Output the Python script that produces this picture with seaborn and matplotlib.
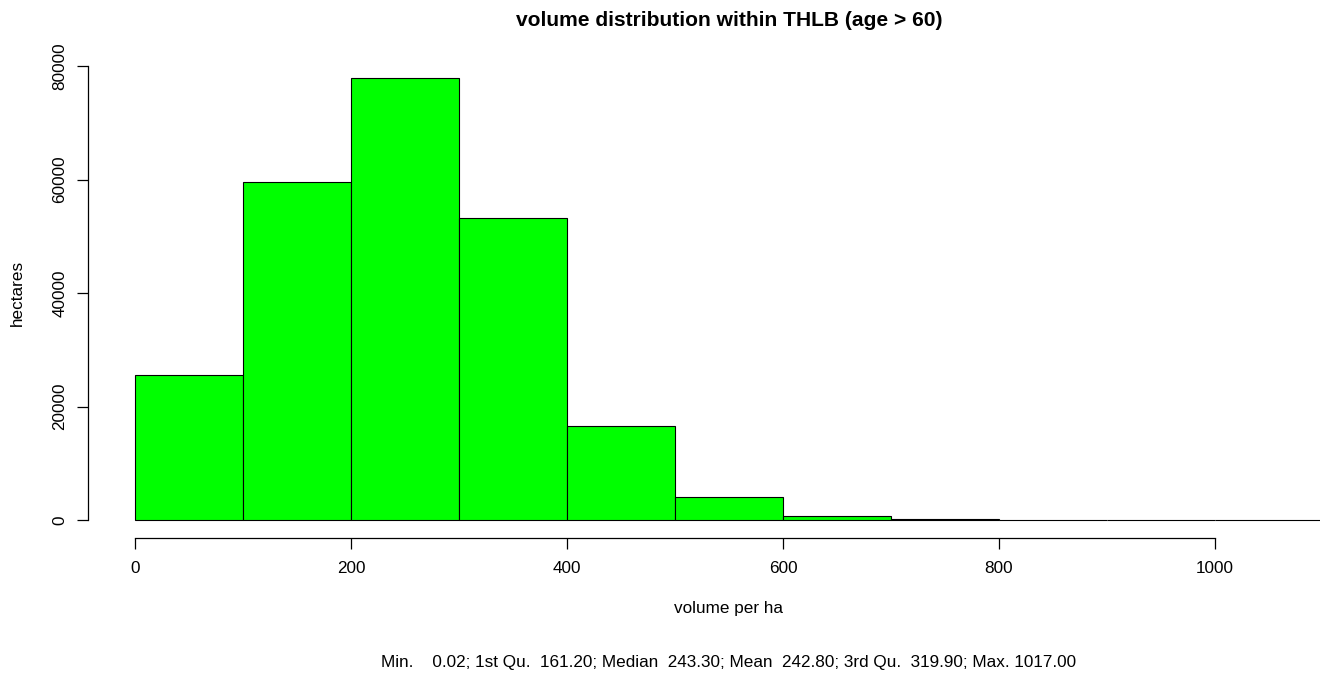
import numpy as np
import pandas as pd
import matplotlib
matplotlib.use("Agg")
import matplotlib.pyplot as plt
import seaborn as sns

bin_edges = [0, 100, 200, 300, 400, 500, 600, 700, 800, 900, 1000, 1100]
hectares = [25600, 59500, 77900, 53200, 16600, 4100, 700, 150, 20, 5, 2]
x_ticks = [0, 200, 400, 600, 800, 1000]
y_ticks = [0, 20000, 40000, 60000, 80000]
title = "volume distribution within THLB (age > 60)"
xlabel = "volume per ha"
ylabel = "hectares"
summary = "Min.    0.02; 1st Qu.  161.20; Median  243.30; Mean  242.80; 3rd Qu.  319.90; Max. 1017.00"

sns.set_style("white")
plt.rcParams['font.family'] = ['Liberation Sans', 'DejaVu Sans']

W, H = 1320, 675
fig = plt.figure(figsize=(W / 100, H / 100), dpi=100)
left, right, top, bottom = 88, 1370, 60.3, 537.7
ax = fig.add_axes([left / W, 1 - bottom / H, (right - left) / W, (bottom - top) / H])

mids = [(a + b) / 2 for a, b in zip(bin_edges[:-1], bin_edges[1:])]
df = pd.DataFrame({"volume": mids, "hectares": hectares})
sns.histplot(data=df, x="volume", weights="hectares", bins=bin_edges,
             color="#00FF00", edgecolor="black", linewidth=0.8, alpha=1, ax=ax)

ax.set_xlim(-44, 1144)
ax.set_ylim(-3116, 81006)
for s in ["top", "right"]:
    ax.spines[s].set_visible(False)
ax.spines["left"].set_bounds(0, 80000)
ax.spines["bottom"].set_bounds(0, 1000)
for s in ["left", "bottom"]:
    ax.spines[s].set_color("black")
    ax.spines[s].set_linewidth(0.9)
ax.set_xticks(x_ticks)
ax.set_yticks(y_ticks)
ax.set_yticklabels([str(v) for v in y_ticks], rotation=90, va="center")
ax.tick_params(axis="both", direction="out", length=8, width=0.9, color="black",
               labelsize=12.3, labelcolor="black", left=True, bottom=True)
ax.tick_params(axis="x", pad=9)
ax.tick_params(axis="y", pad=7)
ax.set_xlabel("")
ax.set_ylabel("")
ax.grid(False)

fig.text(729 / W, 1 - 20 / H, title, ha="center", va="center", fontsize=15.1, fontweight="bold", color="black")
fig.text(729 / W, 1 - 608 / H, xlabel, ha="center", va="center", fontsize=12.3, color="black")
fig.text(17 / W, 1 - 293 / H, ylabel, ha="center", va="center", fontsize=12.3, rotation=90, color="black")
fig.text(729 / W, 1 - 662 / H, summary, ha="center", va="center", fontsize=12.3, color="black")

fig.savefig("out.png", dpi=100)
